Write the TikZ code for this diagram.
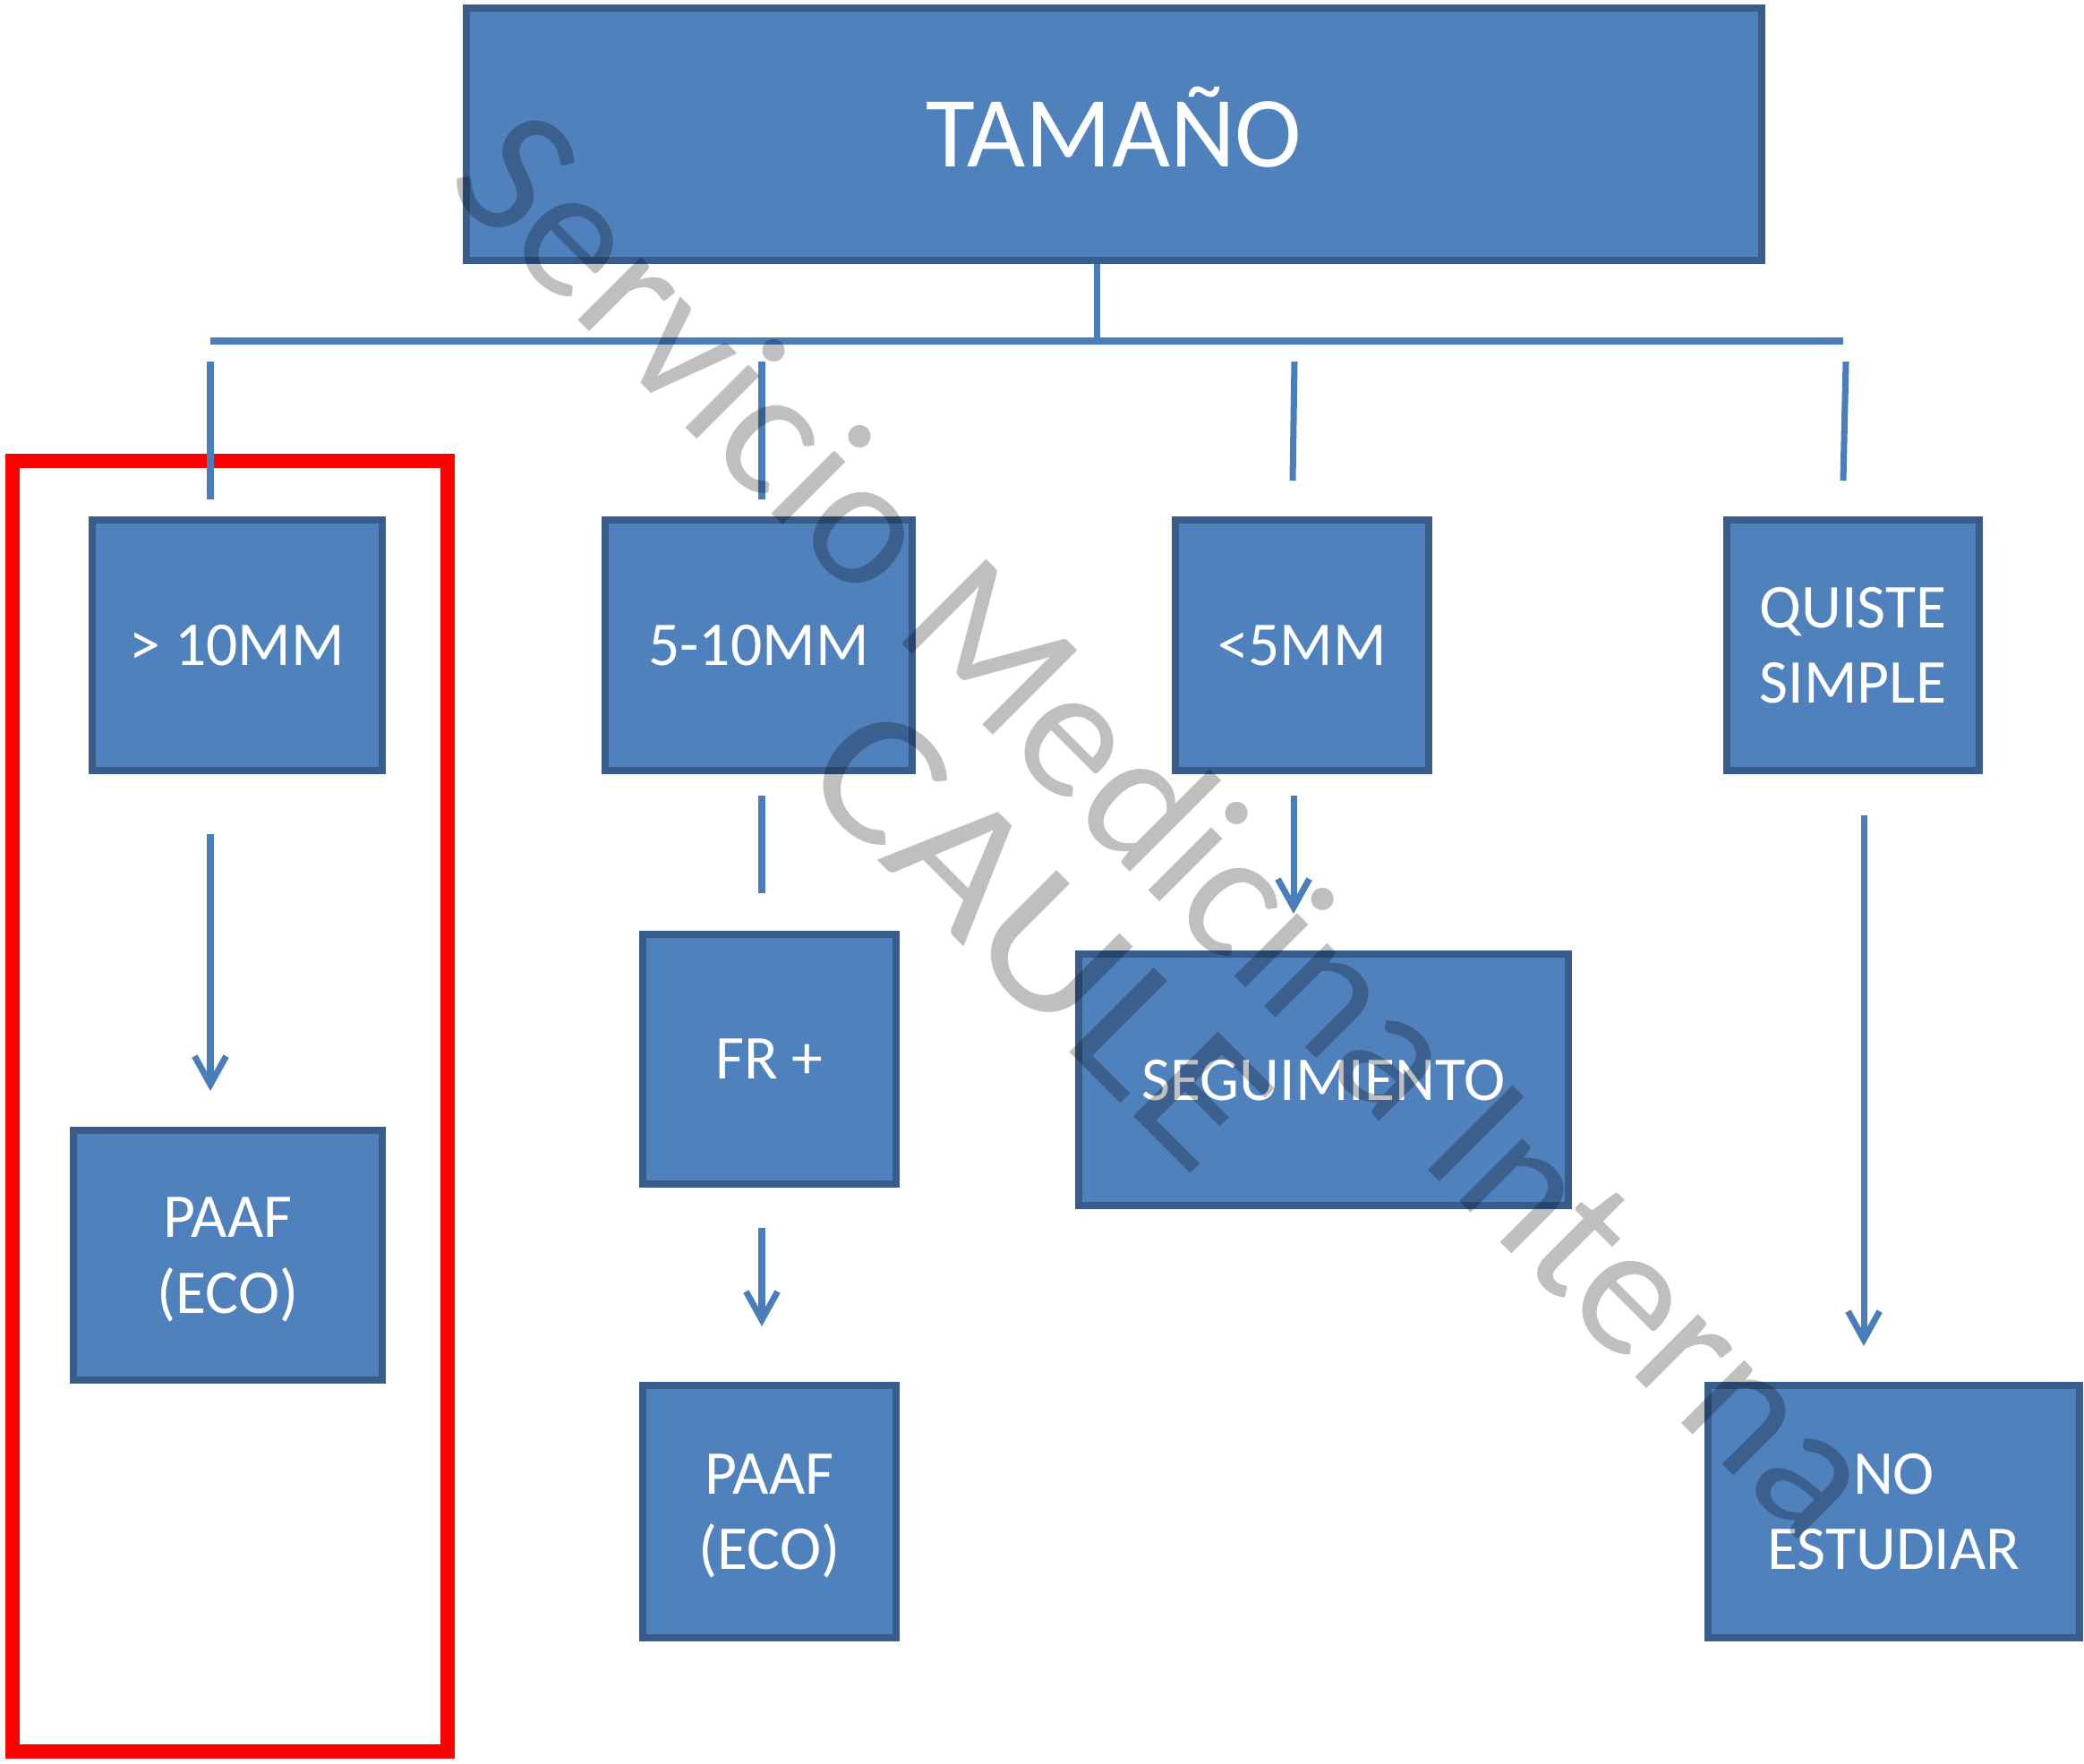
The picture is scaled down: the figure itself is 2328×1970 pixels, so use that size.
\documentclass[tikz,border=0pt]{standalone}
\usepackage{fontspec}
\setmainfont{Carlito}
\usetikzlibrary{arrows.meta}
\definecolor{boxfill}{HTML}{4F81BD}
\definecolor{boxedge}{HTML}{385D8A}
\definecolor{conn}{HTML}{4A7EBB}
\begin{document}
\begin{tikzpicture}[x=0.01cm,y=-0.01cm,
  box/.style={draw=boxedge, fill=boxfill, line width=2.3pt, text=white, align=center,
              inner sep=0pt, text depth=0pt, font=\fontsize{19.8}{24}\selectfont},
  lnk/.style={draw=conn, line width=2pt},
  arr/.style={lnk, -{Straight Barb[length=9pt,width=10pt]}},
  wmark/.style={rotate=-45, anchor=base, text=black, text opacity=0.25,
              font=\fontsize{59.2}{60}\selectfont, inner sep=0pt}
]
\useasboundingbox (0,0) rectangle (2328,1970);

% boxes
\node[box, minimum width=14.47cm, minimum height=2.82cm, text height=20.6pt,
      font=\fontsize{32}{36}\selectfont] (top) at (1244.5,150) {TAMAÑO};
\node[box, minimum width=3.24cm, minimum height=2.80cm] (gt10) at (265,721) {> 10MM};
\node[box, minimum width=3.43cm, minimum height=2.80cm] (b510) at (847.5,721) {5-10MM};
\node[box, minimum width=2.83cm, minimum height=2.80cm] (lt5) at (1454.5,721) {<5MM};
\node[box, minimum width=2.82cm, minimum height=2.80cm] (quiste) at (2070,721) {QUISTE\\SIMPLE};
\node[box, minimum width=3.45cm, minimum height=2.79cm] (paaf1) at (254.5,1402.5) {PAAF\\(ECO)};
\node[box, minimum width=2.83cm, minimum height=2.79cm] (fr) at (859.5,1183.5) {FR +};
\node[box, minimum width=2.83cm, minimum height=2.82cm] (paaf2) at (859.5,1689) {PAAF\\(ECO)};
\node[box, minimum width=5.47cm, minimum height=2.81cm] (seg) at (1478.5,1206.5) {SEGUIMIENTO};
\node[box, minimum width=4.15cm, minimum height=2.82cm] (noest) at (2115.5,1689) {NO\\ESTUDIAR};

% highlight frame
\draw[red, line width=4.8pt] (14,515) rectangle (500,1957);

% connector coordinates
\coordinate (busL) at (235,381);
\coordinate (busM) at (1225,381);
\coordinate (busR) at (2059,381);
\coordinate (s1a) at (235,404);  \coordinate (s1b) at (235,558);
\coordinate (s2a) at (851,404);  \coordinate (s2b) at (851,558);
\coordinate (s3a) at (1446,404); \coordinate (s3b) at (1444,537);
\coordinate (s4a) at (2062,404); \coordinate (s4b) at (2059,537);
\coordinate (a1a) at (235,932);  \coordinate (a1b) at (235,1219);
\coordinate (l2a) at (851,889);  \coordinate (l2b) at (851,998);
\coordinate (a2a) at (851,1372); \coordinate (a2b) at (851,1482);
\coordinate (a3a) at (1445,889); \coordinate (a3b) at (1445,1021);
\coordinate (a4a) at (2082,911); \coordinate (a4b) at (2082,1504);

% connectors
\draw[lnk] (busM |- top.south) -- (busM);
\draw[lnk] (busL) -- (busR);
\draw[lnk] (s1a) -- (s1b);
\draw[lnk] (s2a) -- (s2b);
\draw[lnk] (s3a) -- (s3b);
\draw[lnk] (s4a) -- (s4b);
\draw[arr] (a1a) -- (a1b);
\draw[lnk] (l2a) -- (l2b);
\draw[arr] (a2a) -- (a2b);
\draw[arr] (a3a) -- (a3b);
\draw[arr] (a4a) -- (a4b);

% watermark
\node[wmark] (wm1) at (1256,968) {Servicio Medicina Interna};
\node[wmark, xscale=1.15] (wm2) at (1113,1094) {CAULE};
\end{tikzpicture}
\end{document}
